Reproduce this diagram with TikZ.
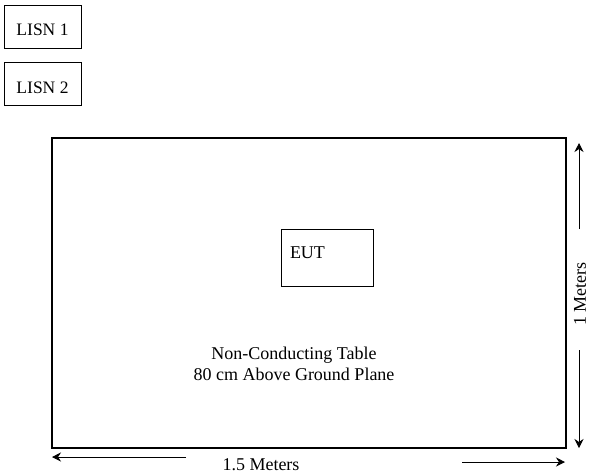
\documentclass[tikz,border=0pt]{standalone}
\usepackage{fontspec}
\setmainfont{Liberation Serif}
\usetikzlibrary{arrows.meta,positioning}

\begin{document}
\begin{tikzpicture}[
  x=1pt, y=-1pt,
  lisn/.style={
    rectangle,
    draw=black,
    line width=0.8pt,
    inner sep=0pt,
    minimum width=77pt,
    minimum height=43pt,
    text height=20pt,
    text depth=2pt,
    font=\fontsize{17.5}{20}\selectfont
  },
  eutbox/.style={
    rectangle,
    draw=black,
    line width=0.8pt,
    inner sep=0pt,
    minimum width=92pt,
    minimum height=57pt,
    text width=74pt,
    align=left,
    text height=8pt,
    text depth=7pt,
    font=\fontsize{18}{20}\selectfont
  },
  tablebox/.style={
    rectangle,
    draw=black,
    line width=1.6pt,
    inner sep=0pt,
    minimum width=514pt,
    minimum height=310pt
  },
  caption/.style={align=center, font=\fontsize{18}{21.5}\selectfont},
  dimtext/.style={inner sep=0pt, font=\fontsize{18}{20}\selectfont},
  dim/.style={-{Stealth[length=9pt,width=9pt,inset=3pt]}, line width=0.8pt}
]
\useasboundingbox (0,0) rectangle (590,475);

% line impedance stabilisation networks
\node[lisn] (lisn1) at (42.5,26.5) {LISN 1};
\node[lisn] (lisn2) at (42.5,84) {LISN 2};

% table with the unit under test
\node[tablebox] (table) at (309,293) {};
\node[eutbox] (eut) at (327,257.5) {EUT};
\node[caption] (tabletext) at (294,364) {Non-Conducting Table\\80 cm Above Ground Plane};

% height of the table
\node[dimtext, rotate=90] (vlabel) at (580,294) {1 Meters};
\coordinate (vup) at (579,229);
\coordinate (vtop) at (579,143);
\coordinate (vdown) at (579,350);
\coordinate (vbot) at (579,448);
\draw[dim] (vup) -- (vtop);
\draw[dim] (vdown) -- (vbot);

% width of the table
\node[dimtext] (hlabel) at (261,465) {1.5 Meters};
\coordinate (hl) at (186,457);
\coordinate (hleft) at (52,457);
\coordinate (hr) at (462,462);
\coordinate (hright) at (565,462);
\draw[dim] (hl) -- (hleft);
\draw[dim] (hr) -- (hright);

\end{tikzpicture}
\end{document}
